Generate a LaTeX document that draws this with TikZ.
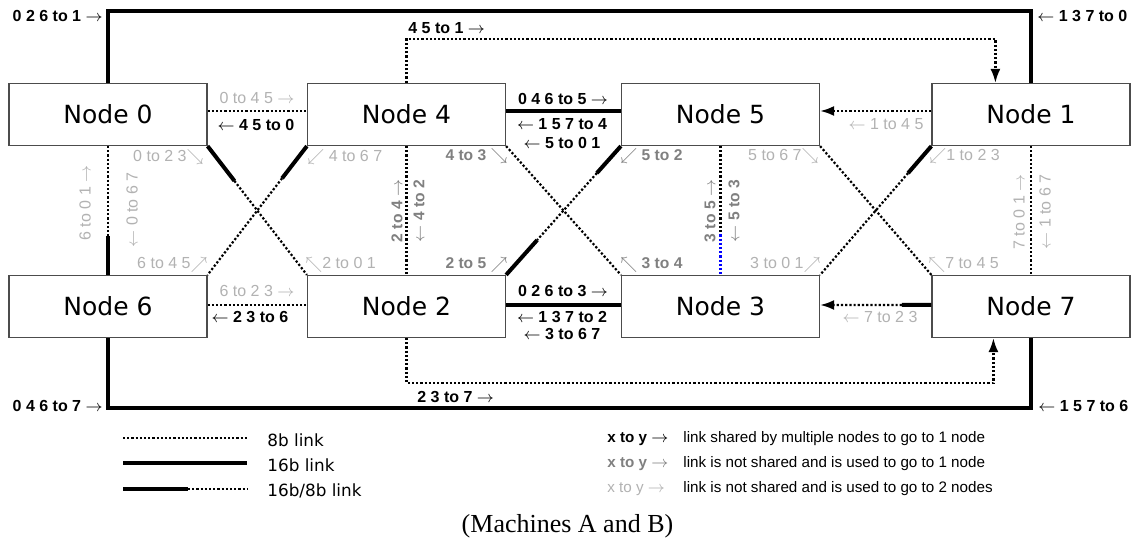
\documentclass[tikz,border=0pt]{standalone}
\usepackage{fontspec}
\setmainfont{Liberation Serif}
\newfontfamily\lsans{Liberation Sans}
\newfontfamily\dvs{DejaVu Sans}
\usetikzlibrary{calc,arrows.meta}
\begin{document}
\begin{tikzpicture}[x=0.5pt,y=-0.5pt,
 box/.style={draw=black!70, line width=0.6pt, minimum width=99pt, minimum height=31pt, inner sep=0pt, font=\dvs\fontsize{12.5}{15}\selectfont},
 w16/.style={line width=2pt},
 d8/.style={line width=1.1pt, dash pattern=on 1.1pt off 1pt},
 tip/.style={-{Latex[length=7pt,width=5pt]}},
 lb/.style={font=\lsans\bfseries\fontsize{8}{10}\selectfont, inner sep=0pt, text=black},
 lm/.style={font=\lsans\bfseries\fontsize{7.8}{10}\selectfont, inner sep=0pt, text=black!50},
 ll/.style={font=\lsans\fontsize{8}{10}\selectfont, inner sep=0pt, text=black!30},
 lg/.style={font=\dvs\fontsize{8.4}{10}\selectfont, inner sep=0pt, anchor=base west},
 lt/.style={font=\lsans\fontsize{7.6}{9}\selectfont, inner sep=0pt, anchor=base west},
 xb/.style={font=\lsans\bfseries\fontsize{7.6}{9}\selectfont, inner sep=0pt, anchor=base west},
]
\fill[white] (0,0) rectangle (1134,539);
\useasboundingbox (0,0) rectangle (1134,539);

% nodes
\node[box] (n0) at (108,114.5) {Node 0};
\node[box] (n4) at (406.5,114.5) {Node 4};
\node[box] (n5) at (720.5,114.5) {Node 5};
\node[box] (n1) at (1031,114.5) {Node 1};
\node[box] (n6) at (108,306.5) {Node 6};
\node[box] (n2) at (406.5,306.5) {Node 2};
\node[box] (n3) at (720.5,306.5) {Node 3};
\node[box] (n7) at (1031,306.5) {Node 7};

\coordinate (ty) at (0,11);
\coordinate (ty2) at (0,39);
\coordinate (by2) at (0,383);
\coordinate (by) at (0,408);
\coordinate (a1) at ($(n1.north west)+(64,0)$);
\coordinate (a7) at ($(n7.south west)+(62,0)$);

% outer loops
\draw[w16] (n0.north) |- (ty -| n1.north) -- (n1.north);
\draw[w16] (n6.south) |- (by -| n7.south) -- (n7.south);
\draw[d8,tip] (n4.north) |- (ty2 -| a1) -- (a1);
\draw[d8,tip] (n2.south) |- (by2 -| a7) -- (a7);

% row 1 horizontals
\draw[d8] ([yshift=1.75pt]n0.east) -- ([yshift=1.75pt]n4.west);
\draw[w16] ([yshift=1.75pt]n4.east) -- ([yshift=1.75pt]n5.west);
\draw[d8,tip] ([yshift=1.75pt]n1.west) -- ([yshift=1.75pt]n5.east);

% row 2 horizontals
\draw[d8] ([yshift=0.75pt]n6.east) -- ([yshift=0.75pt]n2.west);
\draw[w16] ([yshift=0.75pt]n2.east) -- ([yshift=0.75pt]n3.west);
\coordinate (m73) at ($([yshift=0.75pt]n7.west)!0.265!([yshift=0.75pt]n3.east)$);
\draw[w16] ([yshift=0.75pt]n7.west) -- (m73);
\draw[d8,tip] (m73) -- ([yshift=0.75pt]n3.east);

% verticals
\coordinate (m06) at ($(n0.south)!0.7!(n6.north)$);
\draw[d8] (n0.south) -- (m06);
\draw[w16] (m06) -- (n6.north);
\draw[d8] (n4.south) -- (n2.north);
\coordinate (m53) at ($(n5.south)!0.685!(n3.north)$);
\draw[d8] (n5.south) -- (m53);
\draw[d8,blue] (m53) -- (n3.north);
\draw[d8] (n1.south) -- (n7.north);

% crossings
\coordinate (c02) at ($(n0.south east)!0.27!(n2.north west)$);
\draw[w16] (n0.south east) -- (c02);
\draw[d8] (c02) -- (n2.north west);
\coordinate (c46) at ($(n4.south west)!0.25!(n6.north east)$);
\draw[w16] (n4.south west) -- (c46);
\draw[d8] (c46) -- (n6.north east);
\draw[d8] (n4.south east) -- (n3.north west);
\coordinate (c52a) at ($(n5.south west)!0.21!(n2.north east)$);
\coordinate (c52b) at ($(n5.south west)!0.73!(n2.north east)$);
\draw[w16] (n5.south west) -- (c52a);
\draw[d8] (c52a) -- (c52b);
\draw[w16] (c52b) -- (n2.north east);
\draw[d8] (n5.south east) -- (n7.north west);
\coordinate (c13) at ($(n1.south west)!0.21!(n3.north east)$);
\draw[w16] (n1.south west) -- (c13);
\draw[d8] (c13) -- (n3.north east);

% labels: outer
\node[lb,anchor=base east] (t1) at (103,21.5) {0 2 6 to 1 $\rightarrow$};
\node[lb,anchor=base west] (t2) at (1037,21.5) {$\leftarrow$ 1 3 7 to 0};
\node[lb,anchor=base west] (t3) at (408,33.5) {4 5 to 1 $\rightarrow$};
\node[lb,anchor=base west] (t4) at (417,402) {2 3 to 7 $\rightarrow$};
\node[lb,anchor=base east] (t5) at (103,411) {0 4 6 to 7 $\rightarrow$};
\node[lb,anchor=base west] (t6) at (1038,411) {$\leftarrow$ 1 5 7 to 6};

% labels: row 1
\node[ll,anchor=base] (r1) at (257,104) {0 to 4 5 $\rightarrow$};
\node[lb,anchor=base] (r2) at (256,131) {$\leftarrow$ 4 5 to 0};
\node[lb,anchor=base] (r3) at (563,105) {0 4 6 to 5 $\rightarrow$};
\node[lb,anchor=base] (r4) at (562,130) {$\leftarrow$ 1 5 7 to 4};
\node[lb,anchor=base] (r5) at (562,149) {$\leftarrow$ 5 to 0 1};
\node[ll,anchor=base] (r6) at (886,130) {$\leftarrow$ 1 to 4 5};

% labels: row 2
\node[ll,anchor=base] (s1) at (257,297) {6 to 2 3 $\rightarrow$};
\node[lb,anchor=base] (s2) at (250,323) {$\leftarrow$ 2 3 to 6};
\node[lb,anchor=base] (s3) at (563,297) {0 2 6 to 3 $\rightarrow$};
\node[lb,anchor=base] (s4) at (562,322.5) {$\leftarrow$ 1 3 7 to 2};
\node[lb,anchor=base] (s5) at (562,340) {$\leftarrow$ 3 to 6 7};
\node[ll,anchor=base] (s6) at (880,323) {$\leftarrow$ 7 to 2 3};

% labels: crossings
\node[ll,anchor=base east] (k1) at (204,162) {0 to 2 3$\searrow$};
\node[ll,anchor=base west] (k2) at (307,162) {$\swarrow$ 4 to 6 7};
\node[ll,anchor=base east] (k3) at (208,269) {6 to 4 5$\nearrow$};
\node[ll,anchor=base west] (k4) at (305,269) {$\nwarrow$2 to 0 1};
\node[lm,anchor=base east] (k5) at (508,161) {4 to 3 $\searrow$};
\node[lm,anchor=base west] (k6) at (620,161) {$\swarrow$ 5 to 2};
\node[lm,anchor=base east] (k7) at (508,269) {2 to 5 $\nearrow$};
\node[lm,anchor=base west] (k8) at (620,269) {$\nwarrow$ 3 to 4};
\node[ll,anchor=base east] (k9) at (819,161) {5 to 6 7$\searrow$};
\node[ll,anchor=base west] (k10) at (929,161) {$\swarrow$1 to 2 3};
\node[ll,anchor=base east] (k11) at (821,269) {3 to 0 1$\nearrow$};
\node[ll,anchor=base west] (k12) at (928,269) {$\nwarrow$7 to 4 5};

% labels: verticals
\node[ll,rotate=90] (v1) at (85,203) {6 to 0 1 $\rightarrow$};
\node[ll,rotate=90] (v2) at (132,210) {$\leftarrow$ 0 to 6 7};
\node[lm,rotate=90] (v3) at (397,211) {2 to 4 $\rightarrow$};
\node[lm,rotate=90] (v4) at (419,211) {$\leftarrow$ 4 to 2};
\node[lm,rotate=90] (v5) at (710,211) {3 to 5 $\rightarrow$};
\node[lm,rotate=90] (v6) at (734,211) {$\leftarrow$ 5 to 3};
\node[ll,rotate=90] (v7) at (1019,212) {7 to 0 1 $\rightarrow$};
\node[ll,rotate=90] (v8) at (1045,212) {$\leftarrow$ 1 to 6 7};

% legend
\coordinate (g1a) at (123,438); \coordinate (g1b) at (247,438);
\coordinate (g2a) at (123,463); \coordinate (g2b) at (247,463);
\coordinate (g3a) at (123,489); \coordinate (g3m) at (188,489); \coordinate (g3b) at (247,489);
\draw[d8] (g1a) -- (g1b);
\draw[w16] (g2a) -- (g2b);
\draw[w16] (g3a) -- (g3m);
\draw[d8] (g3m) -- (g3b);
\node[lg] (e1) at (267,446) {8b link};
\node[lg] (e2) at (267,471.5) {16b link};
\node[lg] (e3) at (267,496) {16b/8b link};

\node[xb,text=black] (x1) at (607,442) {x to y $\rightarrow$};
\node[xb,text=black!50] (x2) at (607,467) {x to y $\rightarrow$};
\node[lt,text=black!30] (x3) at (607,492) {x to y $\rightarrow$};
\node[lt] (y1) at (683,442) {link shared by multiple nodes to go to 1 node};
\node[lt] (y2) at (683,467) {link is not shared and is used to go to 1 node};
\node[lt] (y3) at (683,492) {link is not shared and is used to go to 2 nodes};

\node[font=\fontsize{13}{15}\selectfont, inner sep=0pt] (cap) at (567.5,526) {(Machines A and B)};
\end{tikzpicture}
\end{document}
